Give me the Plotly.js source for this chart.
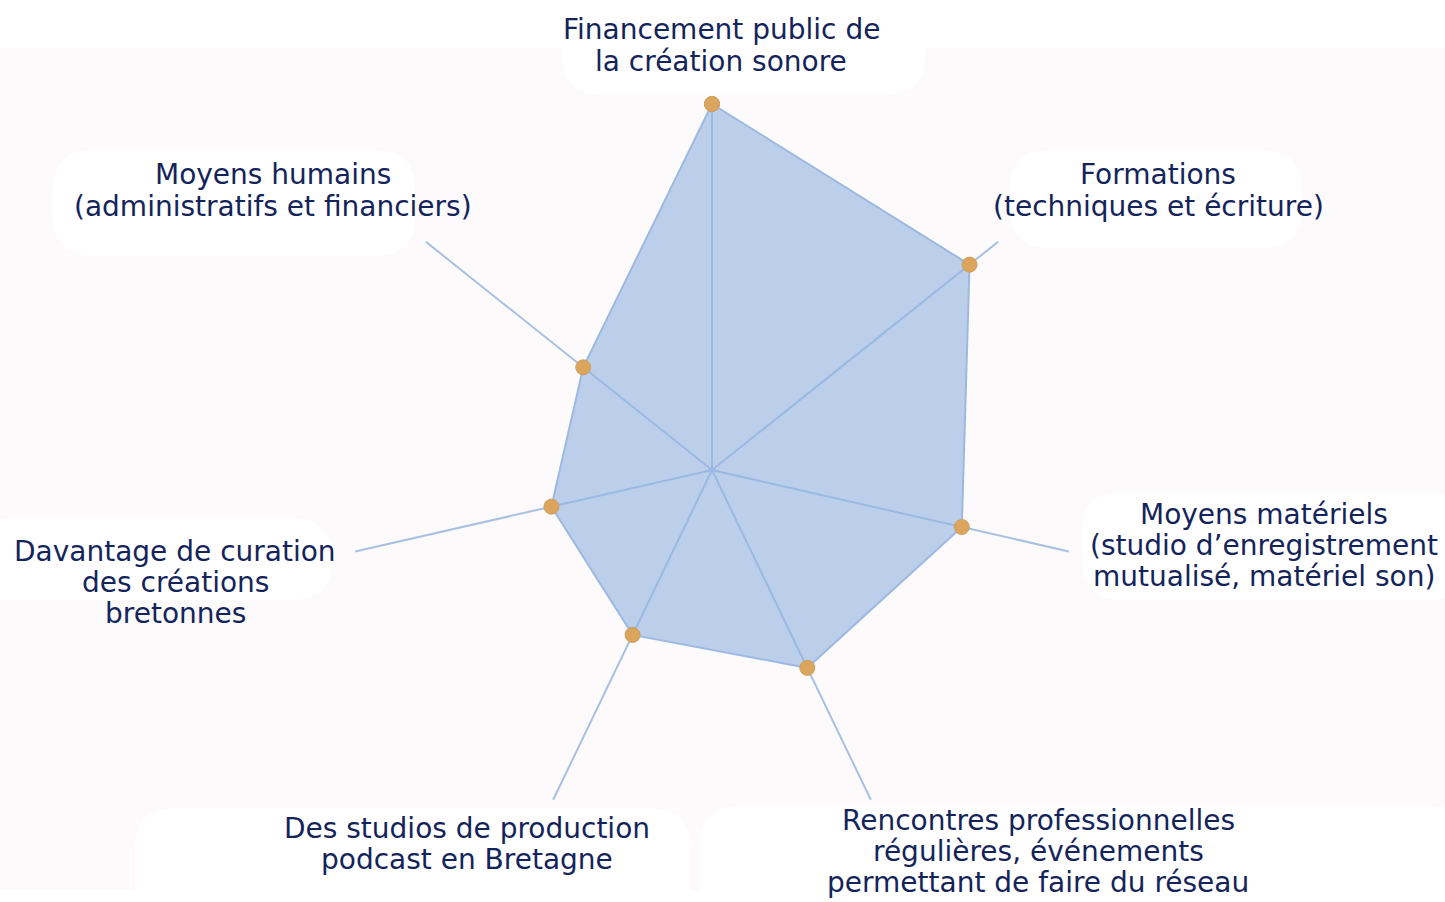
<!DOCTYPE html>
<html>
<head>
<meta charset="utf-8">
<script src="https://cdn.plot.ly/plotly-3.0.1.min.js"></script>
<style>
  body { margin: 0; background: #ffffff; }
  #plot { width: 1445px; height: 902px; }
</style>
</head>
<body>
<div id="plot"></div>
<script>
// axes of the radar, clockwise from the top
let categories = ['Financement', 'Formations', 'Moyens matériels', 'Rencontres', 'Studios', 'Curation', 'Moyens humains'];
let scores = [100, 90, 70, 60, 50, 45, 45];
let labels = [
    ['Financement public de', 'la création sonore'],
    ['Formations', '(techniques et écriture)'],
    ['Moyens matériels', '(studio d’enregistrement', 'mutualisé, matériel son)'],
    ['Rencontres professionnelles', 'régulières, événements', 'permettant de faire du réseau'],
    ['Des studios de production', 'podcast en Bretagne'],
    ['Davantage de curation', 'des créations', 'bretonnes'],
    ['Moyens humains', '(administratifs et financiers)']
];

// label placement, in pixels from the top-left corner
let labelX = [721, 1158, 1264, 1038, 467, 175, 273];
let labelTop = [30, 175, 514, 820, 828, 551, 175];
let lineGap = 31;
// soft white boxes behind the labels: [x0, x1, y0, y1]
let boxes = [
    [562, 925, -30, 95],
    [1010, 1302, 150, 248],
    [1082, 1470, 492, 600],
    [700, 1470, 806, 930],
    [135, 690, 808, 930],
    [-30, 332, 518, 600],
    [53, 415, 150, 256]
];

const W = 1445, H = 902;
const px = v => v / W;
const py = v => 1 - v / H;

let theta = categories.concat([categories[0]]);
let r = scores.concat([scores[0]]);

let radar = {
    type: 'scatterpolar',
    theta: theta,
    r: r,
    mode: 'lines+markers',
    fill: 'toself',
    fillcolor: 'rgba(145,179,224,0.6)',
    line: { color: '#9db9e2', width: 2 },
    marker: { color: '#dca55e', size: 15, line: { color: '#cf9d5c', width: 1 } },
    hoverinfo: 'skip'
};

function roundedBox(b, rad)
{
    let x0 = b[0], x1 = b[1], y0 = b[2], y1 = b[3];
    let p = 'M' + px(x0 + rad) + ',' + py(y0) +
        ' L' + px(x1 - rad) + ',' + py(y0) +
        ' Q' + px(x1) + ',' + py(y0) + ' ' + px(x1) + ',' + py(y0 + rad) +
        ' L' + px(x1) + ',' + py(y1 - rad) +
        ' Q' + px(x1) + ',' + py(y1) + ' ' + px(x1 - rad) + ',' + py(y1) +
        ' L' + px(x0 + rad) + ',' + py(y1) +
        ' Q' + px(x0) + ',' + py(y1) + ' ' + px(x0) + ',' + py(y1 - rad) +
        ' L' + px(x0) + ',' + py(y0 + rad) +
        ' Q' + px(x0) + ',' + py(y0) + ' ' + px(x0 + rad) + ',' + py(y0) + ' Z';
    return {
        type: 'path', xref: 'paper', yref: 'paper', path: p,
        fillcolor: '#ffffff', line: { width: 0 }, layer: 'below'
    };
}

let shapes = [{
    type: 'rect', xref: 'paper', yref: 'paper',
    x0: 0, x1: 1, y0: py(890), y1: py(48),
    fillcolor: '#fcfafa', line: { width: 0 }, layer: 'below'
}];
for (var i = 0; i < boxes.length; i++)
{
    shapes.push(roundedBox(boxes[i], 40));
}

let annotations = [];
for (var i = 0; i < labels.length; i++)
{
    for (var j = 0; j < labels[i].length; j++)
    {
        annotations.push({
            text: labels[i][j],
            x: px(labelX[i]),
            y: py(labelTop[i] + j * lineGap),
            xref: 'paper',
            yref: 'paper',
            xanchor: 'center',
            yanchor: 'middle',
            showarrow: false,
            font: { family: 'DejaVu Sans, sans-serif', size: 28, color: '#14245a' }
        });
    }
}

let layout = {
    width: W,
    height: H,
    paper_bgcolor: '#ffffff',
    margin: { l: 0, r: 0, t: 0, b: 0 },
    showlegend: false,
    shapes: shapes,
    polar: {
        domain: { x: [346 / W, 1078 / W], y: [66 / H, 798 / H] },
        bgcolor: 'rgba(0,0,0,0)',
        radialaxis: { visible: false, range: [0, 100], showgrid: false },
        angularaxis: {
            rotation: 90,
            direction: 'clockwise',
            categoryorder: 'array',
            categoryarray: categories,
            showticklabels: false,
            ticks: '',
            showline: false,
            gridcolor: '#a9c0e4',
            gridwidth: 2
        }
    },
    annotations: annotations
};

Plotly.newPlot('plot', [radar], layout, { displayModeBar: false, staticPlot: true });
</script>
</body>
</html>
